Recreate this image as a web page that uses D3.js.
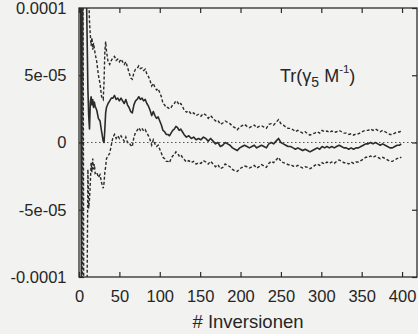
<!DOCTYPE html>
<html>
<head>
<meta charset="utf-8">
<script src="https://cdn.jsdelivr.net/npm/d3@7"></script>
<style>
  html, body { margin: 0; padding: 0; background: #f2f2f0; }
  svg { display: block; }
  text { font-family: "Liberation Sans", Arial, Helvetica, sans-serif; fill: #262626; }
</style>
</head>
<body>
<div id="chart"></div>
<script>
// Running estimate of Tr(gamma5 M^-1) versus number of inversions,
// with the upper and lower edges of its error band. Values in units of 1e-5.
const inversions = [
  1,2,3,4,5,6,7,8,9,10,11,12,13,14,15,16,17,18,19,20,
  22,24,26,28,30,31,32,33,34,36,38,
  40,42,44,46,48,50,52,54,56,58,60,62,64,66,68,70,72,74,76,78,80,82,84,
  86,88,90,92,94,96,98,100,102,104,106,108,110,112,114,116,118,120,122,124,126,128,
  130,133,136,139,142,145,148,151,154,157,
  160,163,166,169,172,175,178,181,184,187,
  190,193,196,199,202,205,208,211,214,217,
  220,223,226,229,232,235,238,241,244,247,
  250,253,256,259,262,265,268,271,274,277,
  280,283,286,289,292,295,298,301,304,307,
  310,313,316,319,322,325,328,331,334,337,
  340,343,346,349,352,355,358,361,364,367,
  370,373,376,379,382,385,388,391,394,397,
  399
];

const meanVals = [
  18,15,-13,14,13,12,11,12,12,8,4,2,1,3,3.4,2.8,3.2,2.6,3.0,2.7,
  2.4,1.8,1.6,0.8,0.1,0.0,1.0,2.2,2.6,2.9,3.1,
  3.3,3.3,3.5,3.2,3.3,3.1,3.3,3.1,2.9,3.2,2.8,2.6,2.3,2.2,2.8,3.1,3.2,3.4,3.2,3.3,3.1,3.2,2.9,
  2.7,2.4,2.0,2.3,2.0,1.8,1.9,1.6,1.3,0.9,0.8,0.6,0.6,0.5,0.7,0.9,1.0,1.2,1.1,0.9,1.0,0.8,
  0.6,0.4,0.5,0.3,0.4,0.2,0.3,0.2,0.4,0.3,
  0.1,0.3,0.1,-0.1,0.0,-0.3,-0.2,0.0,-0.1,-0.2,
  -0.4,-0.5,-0.6,-0.4,-0.3,-0.2,-0.3,-0.4,-0.3,-0.2,
  -0.4,-0.3,-0.2,-0.3,-0.4,-0.1,0.0,-0.1,0.1,0.3,
  0.0,-0.1,-0.2,-0.3,-0.3,-0.4,-0.5,-0.4,-0.5,-0.6,
  -0.5,-0.6,-0.7,-0.6,-0.5,-0.4,-0.5,-0.3,-0.4,-0.3,
  -0.4,-0.3,-0.4,-0.3,-0.2,-0.3,-0.4,-0.4,-0.5,-0.4,
  -0.5,-0.4,-0.4,-0.3,-0.2,-0.1,-0.1,0.0,-0.1,0.0,
  -0.1,-0.2,-0.1,-0.2,-0.3,-0.4,-0.4,-0.3,-0.2,-0.2,
  -0.1
];

const upperVals = [
  40,35,12,30,28,26,24,22,20,15,12,11,9,8,7.2,7.8,6.9,7.4,7.0,6.6,
  6.0,5.0,4.4,3.4,3.2,4.5,6.8,7.5,6.8,6.0,5.8,
  6.1,6.3,6.4,6.1,6.2,6.0,6.2,6.0,5.8,6.0,5.6,5.2,4.8,4.7,5.2,5.45,5.5,5.7,5.5,5.55,5.35,5.45,5.1,
  4.9,4.6,4.2,4.4,4.1,3.9,4.0,3.7,3.4,2.9,2.8,2.6,2.6,2.5,2.6,2.8,2.9,3.1,3.0,2.8,2.9,2.7,
  2.45,2.25,2.35,2.1,2.2,2.0,2.1,1.95,2.15,2.05,
  1.8,2.0,1.8,1.6,1.65,1.35,1.45,1.6,1.5,1.4,
  1.2,1.1,0.95,1.15,1.25,1.35,1.2,1.1,1.2,1.3,
  1.1,1.2,1.25,1.15,1.05,1.35,1.4,1.3,1.5,1.7,
  1.4,1.3,1.15,1.05,1.05,0.95,0.8,0.9,0.8,0.7,
  0.8,0.65,0.55,0.65,0.7,0.8,0.7,0.9,0.8,0.85,
  0.75,0.85,0.75,0.8,0.9,0.8,0.7,0.7,0.6,0.65,
  0.55,0.65,0.65,0.75,0.85,0.9,0.9,1.0,0.9,1.0,
  0.9,0.8,0.9,0.8,0.7,0.6,0.6,0.7,0.78,0.78,
  0.88
];

const lowerVals = [
  -30,-25,-40,-20,12,-15,-14,-13,-14,-11,-2,-4.9,-4.2,-3,-1.5,-2.2,-1.2,-2.0,-1.6,-2.3,
  -2.2,-2.6,-2.4,-3.0,-3.4,-3.0,-2.2,-1.8,-1.2,-1.0,-0.8,
  -0.2,0.4,0.6,0.3,0.5,0.3,0.5,0.3,0.1,0.4,0.0,0.0,-0.2,-0.3,0.4,0.75,0.9,1.1,0.9,1.05,0.85,0.95,0.7,
  0.5,0.2,-0.2,0.2,-0.1,-0.3,-0.2,-0.5,-0.8,-1.1,-1.2,-1.4,-1.4,-1.5,-1.2,-1.0,-0.9,-0.7,-0.8,-1.0,-0.9,-1.1,
  -1.25,-1.45,-1.35,-1.5,-1.4,-1.6,-1.5,-1.55,-1.35,-1.45,
  -1.6,-1.4,-1.6,-1.8,-1.65,-1.95,-1.85,-1.6,-1.7,-1.8,
  -2.0,-2.1,-2.15,-1.95,-1.85,-1.75,-1.8,-1.9,-1.8,-1.7,
  -1.9,-1.8,-1.65,-1.75,-1.85,-1.55,-1.4,-1.5,-1.3,-1.1,
  -1.4,-1.5,-1.55,-1.65,-1.65,-1.75,-1.8,-1.7,-1.8,-1.9,
  -1.8,-1.85,-1.95,-1.85,-1.7,-1.6,-1.7,-1.5,-1.6,-1.45,
  -1.55,-1.45,-1.55,-1.4,-1.3,-1.4,-1.5,-1.5,-1.6,-1.45,
  -1.55,-1.45,-1.45,-1.35,-1.25,-1.1,-1.1,-1.0,-1.1,-1.0,
  -1.1,-1.2,-1.1,-1.2,-1.3,-1.4,-1.4,-1.3,-1.18,-1.18,
  -1.08
];

const xTicks = [0, 50, 100, 150, 200, 250, 300, 350, 400];
const yTicks = [-10, -5, 0, 5, 10];
const yTickLabels = ["-0.0001", "-5e-05", "0", "5e-05", "0.0001"];
const xTitle = "# Inversionen";

const W = 418, H = 334;
const margin = { left: 79, right: 1, top: 8, bottom: 57 };
const innerW = W - margin.left - margin.right;
const innerH = H - margin.top - margin.bottom;
const ink = "#2b2b2b";

const svg = d3.select("#chart").append("svg")
  .attr("width", W).attr("height", H);

const g = svg.append("g").attr("transform", `translate(${margin.left},${margin.top})`);

const x = d3.scaleLinear().domain([0, 418.5]).range([0, innerW]);
const y = d3.scaleLinear().domain([-10, 10]).range([innerH, 0]);

svg.append("defs").append("clipPath").attr("id", "plotClip")
  .append("rect").attr("x", 0).attr("y", 0).attr("width", innerW).attr("height", innerH);

// zero reference line
g.append("line")
  .attr("x1", x(0)).attr("x2", innerW)
  .attr("y1", y(0)).attr("y2", y(0))
  .attr("stroke", "#555").attr("stroke-width", 1.1)
  .attr("stroke-dasharray", "1.5,2.5");

const plot = g.append("g").attr("clip-path", "url(#plotClip)");
const line = d3.line().x(d => x(d[0])).y(d => y(d[1]));
const pairs = vals => inversions.map((v, i) => [v, vals[i]]);

plot.append("path").datum(pairs(upperVals))
  .attr("fill", "none").attr("stroke", ink).attr("stroke-width", 1.4)
  .attr("stroke-dasharray", "3,2").attr("d", line);
plot.append("path").datum(pairs(lowerVals))
  .attr("fill", "none").attr("stroke", ink).attr("stroke-width", 1.4)
  .attr("stroke-dasharray", "3,2").attr("d", line);
plot.append("path").datum(pairs(meanVals))
  .attr("fill", "none").attr("stroke", ink).attr("stroke-width", 1.6)
  .attr("stroke-linejoin", "round").attr("d", line);

// axes with inward ticks on all four sides
const styleAxis = sel => {
  sel.select(".domain").remove();
  sel.selectAll(".tick line").attr("stroke", ink).attr("stroke-width", 1.2);
  sel.selectAll(".tick text").attr("fill", "#262626")
    .style("font-size", "16.5px")
    .style("font-family", '"Liberation Sans", Arial, Helvetica, sans-serif');
};

g.append("g").attr("transform", `translate(0,${innerH})`)
  .call(d3.axisBottom(x).tickValues(xTicks).tickSizeInner(-5).tickSizeOuter(0).tickPadding(13))
  .call(styleAxis);
g.append("g")
  .call(d3.axisTop(x).tickValues(xTicks).tickFormat("").tickSizeInner(-5).tickSizeOuter(0))
  .call(styleAxis);
g.append("g")
  .call(d3.axisLeft(y).tickValues(yTicks).tickFormat((d, i) => yTickLabels[i])
    .tickSizeInner(-5).tickSizeOuter(0).tickPadding(12.5))
  .call(styleAxis);
g.append("g").attr("transform", `translate(${innerW},0)`)
  .call(d3.axisRight(y).tickValues(yTicks).tickFormat("").tickSizeInner(-5).tickSizeOuter(0))
  .call(styleAxis);

// frame
g.append("rect")
  .attr("x", 0).attr("y", 0).attr("width", innerW).attr("height", innerH)
  .attr("fill", "none").attr("stroke", ink).attr("stroke-width", 1.3);

// x axis title
svg.append("text")
  .attr("x", margin.left + innerW / 2).attr("y", 328)
  .attr("text-anchor", "middle")
  .style("font-size", "18.5px")
  .text(xTitle);

// series label
const lab = svg.append("text").attr("x", 280).attr("y", 82).style("font-size", "18px");
lab.append("tspan").text("Tr(\u03B3");
lab.append("tspan").attr("dy", 5).style("font-size", "14px").text("5");
lab.append("tspan").attr("dy", -5).text(" M");
lab.append("tspan").attr("dy", -9).style("font-size", "11.5px").text("-1");
lab.append("tspan").attr("dy", 9).text(")");
</script>
</body>
</html>
